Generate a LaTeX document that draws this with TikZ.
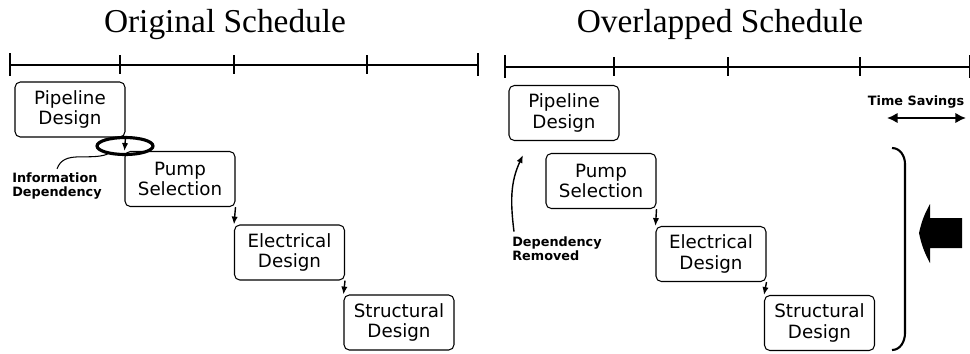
\documentclass[tikz,border=0pt]{standalone}
\usepackage{fontspec}
\setmainfont{Liberation Serif}
\newfontfamily\boxfont{DejaVu Sans}
\usetikzlibrary{arrows.meta,shapes.geometric}

\tikzset{
	task/.style={draw, rounded corners=3pt, line width=0.6pt, minimum width=2.2cm, minimum height=1.1cm, inner sep=0pt, align=center, font=\boxfont\fontsize{10.4}{11.6}\selectfont},
	note/.style={inner sep=0pt, align=left, font=\boxfont\bfseries\fontsize{7.3}{8}\selectfont},
	link/.style={-{Latex[length=4.5pt,width=3.6pt]}, line width=0.8pt},
	axis/.style={line width=1.1pt},
}

\begin{document}
\begin{tikzpicture}[x=0.02cm,y=-0.02cm]
	\useasboundingbox (0,0) rectangle (970,353);
	
	% titles
	\node[anchor=base, font=\fontsize{19}{21}\selectfont] (titleA) at (225,32) {Original Schedule};
	\node[anchor=base, font=\fontsize{19}{21}\selectfont] (titleB) at (720,32) {Overlapped Schedule};
	
	% time axes
	\draw[axis] (10,65) -- (478,65);
	\draw[axis] (10,53) -- (10,76);
	\draw[axis] (478,53) -- (478,76);
	\foreach \t in {120,234,367}
		\draw[line width=0.8pt] (\t,55) -- (\t,74);
	\draw[axis] (505,67) -- (970,67);
	\draw[axis] (505,55) -- (505,78);
	\draw[axis] (969.5,55) -- (969.5,78);
	\foreach \t in {614,728,860}
		\draw[line width=0.8pt] (\t,57) -- (\t,76);
	
	% original schedule
	\node[task] (pipeA) at (70,109.5) {Pipeline\\Design};
	\node[task] (pumpA) at (180,179) {Pump\\Selection};
	\node[task] (elecA) at (289.5,252.5) {Electrical\\Design};
	\node[task] (structA) at (399,322.5) {Structural\\Design};
	\draw[link] (pipeA.south east) -- (pumpA.north west);
	\draw[link] (pumpA.south east) -- (elecA.north west);
	\draw[link] (elecA.south east) -- (structA.north west);
	
	\node[ellipse, draw, line width=1.8pt, minimum width=1.12cm, minimum height=0.34cm, inner sep=0pt] (depA) at (125,146) {};
	\node[note] (infoA) at (57,186) {Information\\Dependency};
	\draw[line width=0.6pt] (depA.205) to[out=200,in=70] ([yshift=2pt]infoA.north);
	
	% overlapped schedule
	\node[task] (pipeB) at (564,113) {Pipeline\\Design};
	\node[task] (pumpB) at (601,181) {Pump\\Selection};
	\node[task] (elecB) at (711,254) {Electrical\\Design};
	\node[task] (structB) at (819.5,323) {Structural\\Design};
	\draw[link] (pumpB.south east) -- (elecB.north west);
	\draw[link] (elecB.south east) -- (structB.north west);
	
	\node[note] (remB) at (557,249) {Dependency\\Removed};
	\coordinate (remTip) at (523,155);
	\draw[link] ([shift={(2,-5)}]remB.north west) to[out=97,in=245] (remTip);
	
	\node[note] (tsB) at (916,102) {Time Savings};
	\coordinate (tsL) at (887,118);
	\coordinate (tsR) at (966,118);
	\draw[{Latex[length=6pt,width=6pt]}-{Latex[length=6pt,width=6pt]}, line width=1.6pt] (tsL) -- (tsR);
	
	\draw[line width=1.2pt] (892,148) to[out=0,in=90] (905,164) -- (905,333) to[out=270,in=0] (892,350);
	\fill (919,233) to[bend left=8] (930,204) -- (930,218) -- (962,218) -- (962,248) -- (930,248) -- (930,263) to[bend left=8] cycle;
\end{tikzpicture}
\end{document}
